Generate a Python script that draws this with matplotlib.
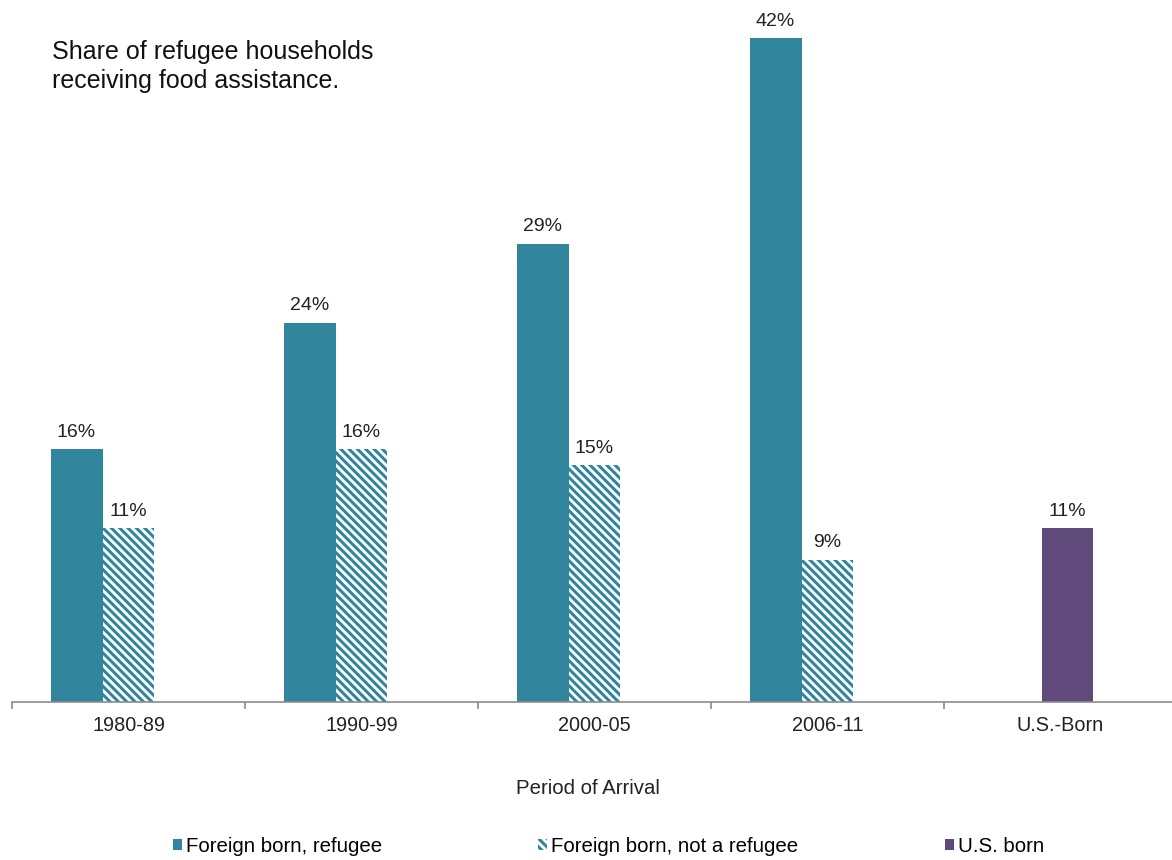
import numpy as np
import matplotlib.pyplot as plt
from matplotlib.patches import Patch

plt.rcParams['font.family'] = ['Liberation Sans', 'DejaVu Sans']
plt.rcParams['hatch.linewidth'] = 2.2

categories = ['1980-89', '1990-99', '2000-05', '2006-11', 'U.S.-Born']
refugee = [16, 24, 29, 42]
not_refugee = [11, 16, 15, 9]
us_born = [11]
series_names = ['Foreign born, refugee', 'Foreign born, not a refugee', 'U.S. born']

teal = '#31859c'
purple = '#604a7b'

fig = plt.figure(figsize=(11.72, 8.6), dpi=100)
ax = fig.add_axes([12 / 1172, 1 - 702 / 860, 1165 / 1172, 702 / 860])

w = 0.223
x = np.arange(len(categories))
b1 = ax.bar(x[:4] - w, refugee, w, color=teal)
b2 = ax.bar(x[:4], not_refugee, w, color='white', edgecolor=teal, hatch='\\\\\\\\', linewidth=0)
b3 = ax.bar(x[4:] + 0.03, us_born, w, color=purple)

for b in (b1, b2, b3):
    ax.bar_label(b, labels=[f'{v}%' for v in b.datavalues], padding=6, fontsize=14, color='#222222')

ax.set_xlim(-0.5, 4.5)
ax.set_ylim(0, 44.43)
ax.set_yticks([])
for s in ['top', 'right', 'left']:
    ax.spines[s].set_visible(False)
ax.spines['bottom'].set_color('#8c8c8c')
ax.spines['bottom'].set_linewidth(1.2)

ax.set_xticks(x)
ax.set_xticklabels(categories, fontsize=14.3, color='#222222')
ax.tick_params(axis='x', which='major', length=0, pad=10)
ax.set_xticks(np.arange(-0.5, 4.0, 1.0), minor=True)
ax.tick_params(axis='x', which='minor', length=5, color='#8c8c8c', width=1.2)

fig.text(52 / 1172, 1 - 40 / 860, 'Share of refugee households\nreceiving food assistance.',
         fontsize=18, va='top', ha='left', linespacing=1.27, color='#111111')
fig.text(588 / 1172, 1 - 788 / 860, 'Period of Arrival', fontsize=14.7, ha='center', va='center',
         color='#222222')

handles = [Patch(facecolor=teal),
           Patch(facecolor='white', edgecolor=teal, hatch='\\\\\\\\', linewidth=0),
           Patch(facecolor=purple)]
xs = [173, 538, 945]
for h, name, xx in zip(handles, series_names, xs):
    fig.legend([h], [name], loc='center left', bbox_to_anchor=(xx / 1172, 1 - 846 / 860),
               frameon=False, fontsize=14.7, handlelength=0.45, handleheight=0.45,
               handletextpad=0.2, borderpad=0, borderaxespad=0)

fig.savefig('out.png', dpi=100)
